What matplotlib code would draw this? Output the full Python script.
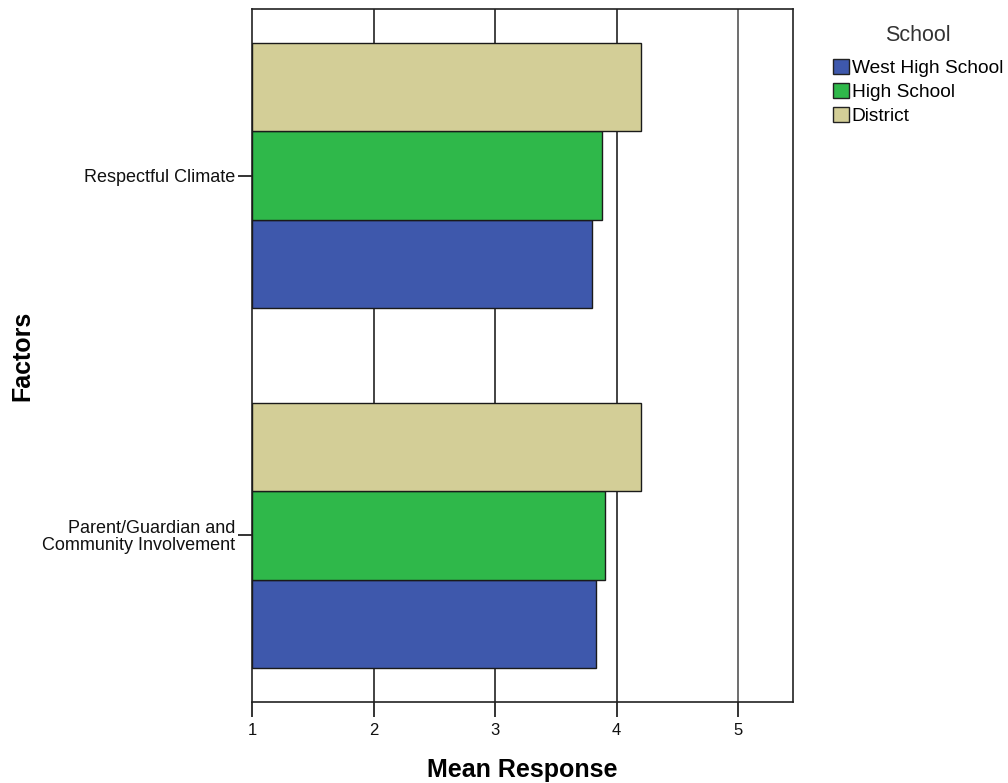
import numpy as np
import matplotlib.pyplot as plt
from matplotlib.patches import Patch

plt.rcParams['font.family'] = ['Liberation Sans', 'DejaVu Sans']

# Data
factors = ["Parent/Guardian and\nCommunity Involvement", "Respectful Climate"]
schools = ["West High School", "High School", "District"]
west_high = [3.83, 3.80]
high_school = [3.90, 3.88]
district = [4.20, 4.20]
colors = ["#3E58AC", "#2FB84A", "#D3CE97"]

values = [west_high, high_school, district]
bar_h = 0.246
y = np.arange(len(factors))

fig = plt.figure(figsize=(10.08, 7.83), dpi=100)
ax = fig.add_axes([0.25, 0.1034, 0.5367, 0.8851])

# bars start at 1 (axis origin)
for i, (vals, col, name) in enumerate(zip(values, colors, schools)):
    offs = (i - 1) * bar_h
    ax.barh(y + offs, np.array(vals) - 1, left=1, height=bar_h, color=col,
            edgecolor="#1a1a1a", linewidth=1.0, label=name, zorder=3)

ax.set_xlim(1, 5.45)
ax.set_ylim(-0.463, 1.463)
ax.set_xticks([1, 2, 3, 4, 5])
ax.set_xticklabels(["1", "2", "3", "4", "5"])
ax.set_yticks(y)
ax.set_yticklabels(factors, linespacing=1.0)
ax.tick_params(axis="both", direction="out", width=1.2, colors="#111111")
ax.tick_params(axis="x", length=11, labelsize=12, pad=4)
ax.tick_params(axis="y", length=10, labelsize=13, pad=2)
for lbl in ax.get_yticklabels():
    lbl.set_horizontalalignment("right")

for xv in [2, 3, 4, 5]:
    ax.axvline(xv, color="#222222" if xv < 5 else "#555555", linewidth=1.2, zorder=1)

for sp in ax.spines.values():
    sp.set_color("#222222")
    sp.set_linewidth(1.2)

ax.set_xlabel("Mean Response", fontsize=18, fontweight="bold")
ax.xaxis.set_label_coords(0.5, -0.081)
ax.set_ylabel("Factors", fontsize=18, fontweight="bold")
ax.yaxis.set_label_coords(-0.403, 0.5)

# legend title drawn separately to get the wider gap of the original
fig.text(0.911, 0.955, "School", fontsize=15.5, color="#333333", ha="center", va="center")
handles = [Patch(facecolor=c, edgecolor="#222222", linewidth=1.0, label=s) for c, s in zip(colors, schools)]
leg = fig.legend(handles=handles, loc="upper left",
                 bbox_to_anchor=(0.826, 0.925), frameon=False, fontsize=13.8,
                 handlelength=0.85, handleheight=0.85,
                 handletextpad=0.15, labelspacing=0.3, borderaxespad=0, borderpad=0)

fig.savefig("out.png", dpi=100)
